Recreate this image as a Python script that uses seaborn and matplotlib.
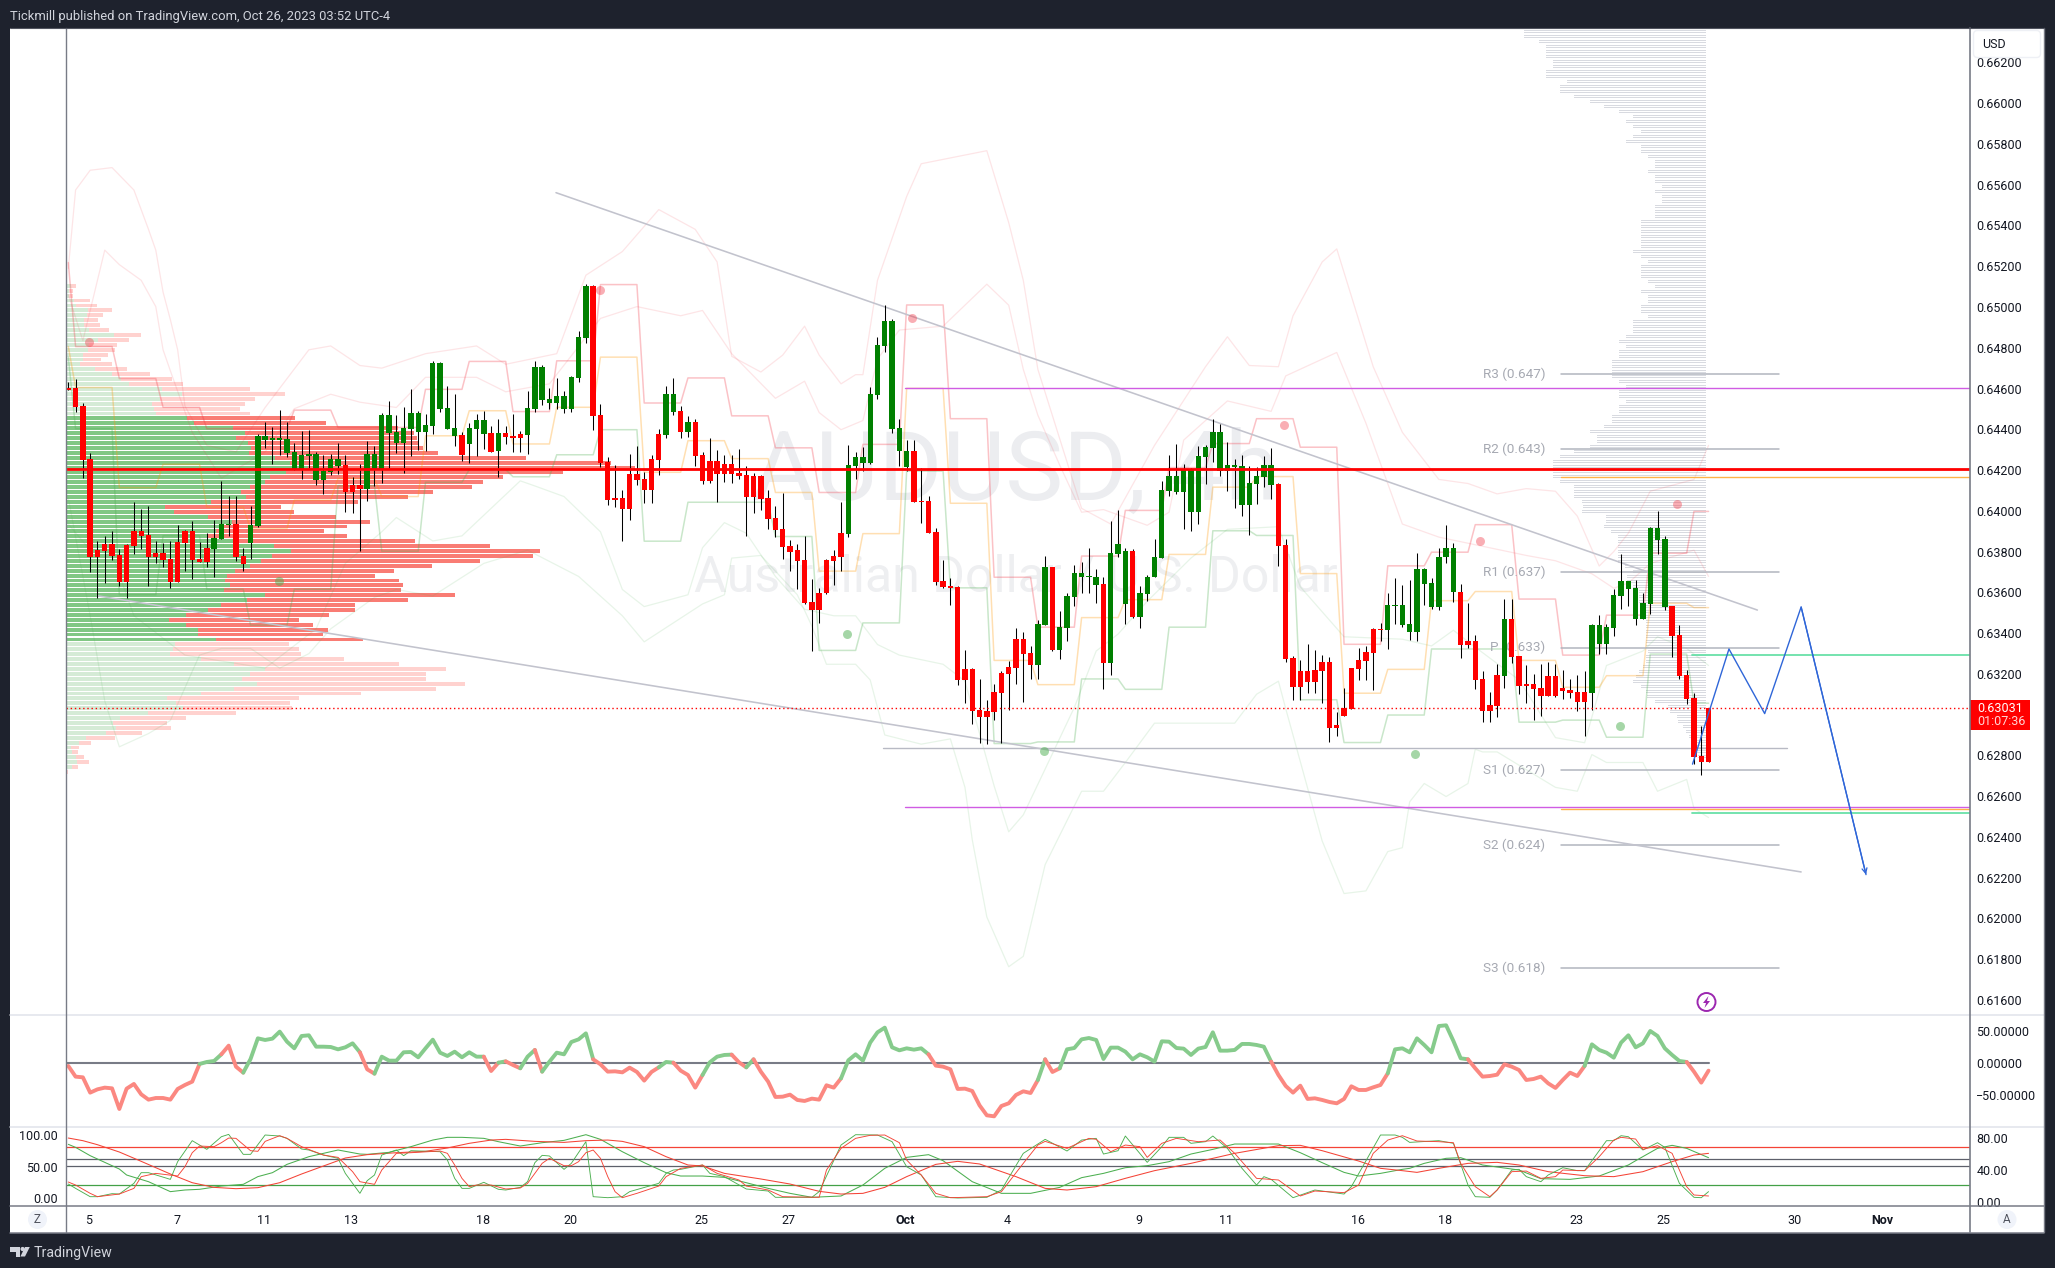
import numpy as np
import matplotlib
matplotlib.use("Agg")
import matplotlib.pyplot as plt
from matplotlib.patches import Rectangle, Circle, Polygon, FancyBboxPatch, Ellipse
import seaborn as sns

W, H = 2055, 1268

# ---------- OHLC-style candle data (prices in 1e-5 points) ----------
body_top = [64603,64603,64514,64253,63807,63837,63837,63785,63832,63900,
63900,63881,63793,63793,63764,63846,63900,63900,63764,63818,
63867,63935,63935,63935,63778,63930,64366,64366,64352,64352,
64352,64288,64274,64279,64279,64193,64254,64254,64225,64128,
64128,64279,64279,64470,64470,64386,64407,64480,64480,64421,
64726,64726,64505,64407,64372,64407,64445,64445,64381,64381,
64381,64366,64375,64505,64705,64705,64549,64563,64563,64656,
64852,65103,65103,64470,64239,64063,64063,64179,64179,64154,
64254,64377,64573,64573,64489,64435,64435,
64274,64244,64244,
64228,64228,64184,64174,64170,64170,64062,63963,63909,63827,
63807,63758,63552,63599,63758,63778,63892,64225,64263,64263,
64573,64813,64931,64931,64407,64293,64293,64046,64048,63895,
63655,63630,63625,63224,63224,63022,63017,63110,63205,63233,
63371,63371,63303,63445,63723,63723,63429,63581,63695,63695,
63680,63674,63641,63793,63837,63802,63802,63597,63676,63772,
64102,64170,64170,64204,64204,64268,64312,64386,64386,64225,
64225,64219,64137,64170,64225,64225,64132,63832,63278,63213,
63213,63219,63257,63257,62949,63033,63229,63268,63306,63420,
63420,63538,63538,
63538,63445,63715,63715,63646,63772,63818,
63818,63604,63361,63361,63175,63045,63194,63469,63469,63287,
63150,63150,63131,63189,63189,63131,63120,63110,63110,63439,
63439,63429,63587,63655,63655,63620,63548,63916,63916,63862,
63532,63390,63192,63082,62796,63031]
body_bot = [64594,64508,64251,63771,63771,63802,63778,63650,63650,63827,
63876,63774,63772,63760,63650,63650,63842,63760,63748,63748,
63814,63862,63930,63774,63739,63842,63925,64349,64349,64349,
64286,64205,64205,64268,64153,64153,64191,64219,64091,64091,
64107,64107,64205,64205,64384,64333,64333,64402,64386,64386,
64416,64500,64402,64366,64274,64328,64402,64377,64291,64293,
64361,64358,64358,64372,64500,64543,64529,64529,64500,64500,
64652,64848,64465,64233,64053,64053,64009,64009,64151,64102,
64102,64249,64372,64484,64386,64386,64268,
64146,64146,64181,
64181,64181,64170,64067,64067,64058,63960,63906,63821,63800,
63753,63548,63513,63513,63595,63753,63772,63886,64219,64233,
64233,64568,64808,64403,64293,64214,64042,64042,63892,63650,
63625,63623,63170,63170,63017,62987,62987,63014,63106,63201,
63229,63299,63245,63245,63439,63317,63317,63425,63578,63674,
63674,63636,63255,63255,63790,63543,63478,63478,63594,63673,
63769,64098,64093,64093,63993,63993,64263,64309,64196,64196,
64214,64028,64028,64132,64165,64126,63827,63273,63134,63134,
63159,63159,63213,62936,62936,62993,63029,63226,63262,63303,
63415,63415,63532,
63441,63404,63404,63643,63529,63529,63771,
63602,63343,63343,63171,63019,63019,63042,63191,63283,63140,
63140,63127,63092,63092,63091,63117,63106,63063,63063,63108,
63348,63348,63427,63583,63618,63471,63471,63545,63858,63527,
63385,63189,63077,62793,62766,62766]
wick_top = [64631,64645,64529,64284,63851,63878,63899,63813,63837,64041,
64009,64023,63851,63842,63851,63930,63907,63949,63846,63890,
63953,64146,64074,64074,63818,64023,64377,64435,64410,64494,
64435,64333,64391,64396,64289,64272,64277,64333,64272,64165,
64228,64342,64319,64482,64538,64468,64508,64598,64489,64475,
64735,64731,64614,64573,64386,64433,64475,64491,64417,64451,
64417,64475,64391,64587,64735,64713,64603,64654,64587,64663,
64882,65111,65110,64524,64263,64223,64102,64277,64317,64189,
64272,64400,64612,64652,64514,64465,64451,
64291,64358,64296,
64272,64274,64303,64221,64186,64177,64102,64023,64088,63857,
63835,63874,63664,63622,63765,63809,64042,64323,64288,64312,
64607,64855,65008,64940,64449,64347,64349,64209,64072,63918,
63758,63669,63630,63315,63231,63175,63073,63148,63213,63261,
63424,63406,63336,63462,63778,63723,63508,63599,63736,63748,
63818,63713,63674,63949,64002,63818,63814,63632,63685,63862,
64146,64274,64326,64230,64212,64317,64323,64449,64428,64340,
64256,64274,64221,64216,64268,64309,64137,63862,63287,63266,
63345,63319,63292,63283,63015,63129,63231,63327,63336,63424,
63450,63599,63669,
63634,63660,63795,63718,63669,63818,63928,
63842,63641,63550,63390,63213,63110,63248,63567,63567,63287,
63243,63199,63248,63257,63248,63219,63177,63196,63213,63445,
63488,63445,63615,63786,63655,63660,63599,63923,63997,63876,
63532,63439,63219,63105,62942,63031]
wick_bot = [64594,64486,64161,63701,63574,63648,63758,63632,63574,63790,
63813,63632,63744,63722,63623,63650,63706,63667,63748,63722,
63674,63862,63878,63755,63706,63765,63921,64310,64232,64275,
64263,64202,64158,64211,64128,64083,64175,64179,63995,63988,
63802,64049,64123,64137,64207,64284,64186,64270,64298,64295,
64377,64487,64402,64317,64244,64235,64268,64302,64288,64165,
64328,64289,64289,64279,64487,64519,64500,64500,64480,64486,
64631,64824,64396,64214,64028,64018,63851,63955,64126,64039,
64039,64175,64358,64470,64358,64361,64218,
64133,64137,64042,
64142,64137,64158,63876,63990,64005,63909,63871,63765,63704,
63616,63541,63313,63450,63592,63634,63704,63871,64156,64195,
64230,64549,64778,64382,64221,64195,64042,63941,63892,63634,
63622,63538,63147,63057,62954,62863,62858,62973,62863,63021,
63152,63061,63175,63175,63439,63313,63275,63362,63532,63597,
63599,63550,63126,63196,63774,63446,63475,63427,63559,63673,
63769,64072,64081,63911,63902,63937,64133,64239,64172,64098,
64016,63974,63883,64034,64116,64060,63730,63257,63073,63073,
63108,63108,63056,62866,62894,62993,63029,63170,63170,63120,
63362,63322,63446,
63429,63366,63362,63538,63518,63511,63744,
63552,63280,63327,63126,62963,62966,62986,63131,63254,63099,
63056,62973,62994,63089,63087,63078,63082,63019,62893,63024,
63297,63297,63387,63520,63532,63441,63471,63495,63786,63515,
63283,63175,63052,62758,62705,62766]
bar_colors = ("r"*20 + "g"*3 + "r"*2 + "g"*13 + "r"*3 + "g"*13 + "r" + "g"*3 + "r" + "g" + "r"*3 +
              "g"*9 + "r"*10 + "g"*2 + "r" + "g" + "r"*21 + "g"*9 + "r"*17 + "g"*2 + "r" + "g"*6 + "r" +
              "g"*3 + "r" + "g"*19 + "r"*15 + "g"*10 + "r"*6 + "g" + "r"*11 + "g"*11 + "r"*6)

# ---------- daily pivot step levels, one per 6-bar day, first is the day before bar 1 ----------
step_r = [65218,64806,64649,64508,64403,64403,64494,64409,64409,64596,64733,64487,64736,65110,64529,64652,
          64466,64309,64090,64326,65010,64452,63674,63429,63778,64002,64212,64330,64452,64312,63345,63730,
          63797,63932,63567,63292,63488,63792,63997]
step_o = [64806,64605,64114,64228,64018,63913,64053,64158,64070,64368,64491,64328,64508,64754,64189,64344,
          64256,64090,63704,63888,64601,64037,63266,63147,63476,63564,63786,64116,64168,63692,63105,63222,
          63559,63604,63266,63134,63191,63546,63525]
step_g = [64754,64403,63588,63878,63615,63439,63615,64123,63802,64140,64202,64167,64275,64398,63851,64042,
          64042,63874,63315,63450,64195,63622,62858,62866,63175,63124,63429,63902,63879,63073,62863,62998,
          63322,63322,62963,62973,62889,63297,63056]

# ---------- pale envelope curves (bar index, price points) ----------
u1_i = [0,1,3,6,9,11,12,13,14,15,16,19,23,27,33,36,40,43,49,56,60,67,71,76,81,86,89,91,95,98,101,103,106,108,109,
        111,115,117,126,129,131,133,139,143,149,156,159,162,166,168,172,174,179,183,188,192,196,200,204,207,210,212,214,217,223,225]
u1_p = [65189,65574,65671,65684,65574,65381,65279,65073,64938,64790,64514,64321,64289,64507,64790,64809,64713,64700,64771,64809,64719,64771,65156,65272,65478,65381,65221,64758,64681,64764,64906,64764,64623,64668,64668,
        65131,65542,65703,65767,65414,65131,64694,64012,63935,64321,64707,64854,64713,64707,64957,65221,65285,64707,64385,64154,64134,64083,64109,64096,63974,63729,63800,63890,64096,64154,64321]
u2_i = [0,2,5,7,10,12,13,14,17,21,27,31,36,40,45,49,56,60,66,73,78,84,87,91,97,101,103,106,109,111,114,120,123,126,129,131,133,136,139,142,148,151,153,159,165,167,174,178,183,188,194,200,204,209,212,214,217,223,225]
u2_p = [65060,64835,65279,65208,65131,65002,64790,64687,64385,64160,64289,64501,64572,64533,64507,64655,64655,64584,64623,64944,65002,64957,64983,64771,64552,64636,64482,64398,64443,64745,64887,64906,65009,65112,65009,64694,64469,64224,63993,64006,63929,63993,64347,64539,64488,64662,64777,64430,63935,63871,63826,63781,63755,63691,63620,63646,63742,63807,63678]
l1_i = [0,3,6,9,16,27,34,38,43,45,50,54,62,64,68,73,76,79,85,87,90,93,97,101,105,108,111,114,120,123,125,127,129,131,134,138,141,144,148,154,159,166,169,175,183,187,190,193,199,204,208,211,216,218,222,225]
l1_p = [63935,63807,63787,63485,63292,63228,63421,63742,63897,63967,63852,63877,64147,64122,64070,63897,63614,63530,63588,63819,63942,63890,63678,63517,63485,63485,63344,63292,63247,63164,62907,62650,62425,62508,62733,63035,63312,63395,63556,63768,63909,63922,63627,63382,63370,63337,63414,63331,63170,62887,62862,63241,63312,63382,63325,63241]
l2_i = [0,3,5,7,11,14,18,21,25,29,33,36,42,45,50,57,63,70,76,79,87,90,91,95,100,102,104,108,110,112,117,121,123,124,126,129,131,134,139,142,145,149,156,160,163,166,167,172,175,178,181,183,184,186,189,192,193,194,196,204,207,209,211,216,218,222,223,225]
l2_p = [64064,63485,63067,62842,62907,62971,63292,63325,63325,63228,63299,63421,63575,63614,63582,63742,63807,63678,63485,63357,63543,63588,63768,63781,63588,63434,63247,63247,63170,62900,62855,62881,62643,62386,62007,61763,61814,62264,62624,62624,62765,62958,62958,62958,63100,63164,63029,62380,62122,62135,62328,62347,62572,62662,62598,62662,62830,62817,62817,62643,62624,62804,62765,62765,62624,62682,62540,62495]

# ---------- signal dots (bar index, price points) ----------
dot_r_i = [2.9,72.9,115.8,166.8,193.7,220.7]
dot_r_p = [64829,65083,64948,64421,63851,64034]
dot_g_i = [28.9,106.8,133.8,184.7,212.8]
dot_g_p = [63657,63397,62823,62808,62945]

# ---------- left volume profile: 100 rows from the top ----------
vp_up = [11,8,8,18,23,51,48,41,41,53,108,73,53,50,40,38,33,65,103,123,143,216,261,211,193,198,203,
         271,288,374,402,382,409,416,410,470,503,543,493,458,446,413,394,404,326,222,242,320,373,343,336,316,383,466,504,462,438,414,379,361,357,368,354,447,406,349,318,270,232,270,297,297,338,
         246,240,234,303,378,447,413,396,428,378,303,228,248,263,184,121,106,113,90,46,30,13,15,23,25,15,1]
vp_all = [23,16,16,55,70,104,84,73,77,97,169,142,115,111,95,79,104,137,189,238,263,413,491,424,402,391,413,
          514,583,745,780,788,792,801,834,1031,1221,1276,1114,980,935,910,823,767,655,482,512,606,682,630,579,630,783,951,1063,1047,928,821,736,693,747,756,751,872,767,648,648,590,523,554,588,577,666,
          500,523,527,624,747,852,807,807,895,830,662,523,503,507,382,270,227,236,171,111,57,30,28,41,52,28,5]
vp_first_price, vp_step = 0.65104, 0.000241

# ---------- right (gray) volume profile, widths from the top, each for two rows ----------
vp2_w = [182,182,167,160,160,160,153,153,160,160,139,146,146,132,116,102,87,73,80,73,65,73,80,65,65,58,51,51,58,51,51,44,51,44,44,51,51,51,65,
         65,65,65,65,65,73,65,58,65,65,65,58,51,65,58,58,65,65,58,73,73,73,80,87,80,87,87,94,94,94,94,87,80,87,87,80,87,87,94,94,102,116,109,109,116,132,146,153,153,153,153,146,132,132,132,124,
         123,124,100,100,102,95,88,88,88,88,88,88,81,73,79,79,73,67,67,67,60,60,60,60,60,60,60,60,60,58,60,60,63,67,70,73,65,60,59,51,38,36,29,28,23,20,17,15,14,13,8]
vp2_first_price, vp2_step = 0.66359, 0.0001227

# ---------- horizontal levels ----------
piv_names = ["R3 (0.647)", "R2 (0.643)", "R1 (0.637)", "P (0.633)", "S1 (0.627)", "S2 (0.624)", "S3 (0.618)"]
piv_vals = [0.64671,0.64302,0.63699,0.63329,0.62728,0.62358,0.61757]
last_price = 0.63031
res_line = 0.64205
purple_levels = [0.64604,0.62549]
orange_levels = [0.64166,0.62537]
mint_levels = [0.63294,0.62518]
gray_level = 0.62835

# trend and forecast
upper_i, upper_p = [66.9,231.7],[0.65561,0.63513]
lower_i, lower_p = [4,237.7],[0.63583,0.62228]
blue_i = [222.8,227.8,232.7,237.7,246.6]
blue_p = [0.62757,0.63322,0.63005,0.63528,0.62215]

price_ticks = [0.616,0.618,0.62,0.622,0.624,0.626,0.628,0.63,0.632,0.634,0.636,0.638,0.64,0.642,0.644,0.646,0.648,0.65,0.652,0.654,0.656,0.658,0.66,0.662]
time_idx = [3,15,27,39,57,69,87,99,115,129,147,159,177,189,207,219,237,249]
time_lab = ["5","7","11","13","18","20","25","27","Oct","4","9","11","16","18","23","25","30","Nov"]

# ---------- momentum oscillator, one value per bar ----------
cci = [-4.7,-21.6,-22.7,-46.9,-41.7,-39,-40.1,-72.8,-40.6,-33.2,-49.6,-58,-55.4,-55.4,-58,-41.1,-34.8,-29.5,-1.6,1.6,
3.2,13.7,27.4,-5.8,-15.3,6.3,39,36.4,38.5,49.6,33.7,23.2,42.7,43.8,25.8,25.8,25.3,21.6,24.8,31.1,
16.9,-10,-16.9,10,3.7,3.7,16.9,17.4,9,23.2,36.9,16.3,11.1,17.9,9,16.9,10,10,-12.7,0.5,
2.6,-3.2,-8.4,10,20.6,-13.7,2.1,16.3,13.7,33.2,37.4,46.9,5.8,-2.1,-13.7,-13.2,-14.8,-7.4,-14.2,-27.9,
-14.2,-6.9,1.6,0.5,-12.1,-19,-39,-19,1.1,10,12.7,13.2,1.1,-6.9,5.8,-13.7,-29.5,-53.8,-53.3,-50.1,
-58.5,-60.1,-56.4,-58,-35.3,-39,-24.3,4.2,13.7,3.7,32.2,48.5,55.9,24.8,20,23.2,21.1,23.2,13.7,-4.2,
-5.8,-10,-41.1,-40.6,-44.3,-67,-82.8,-84.4,-68,-63.8,-50.6,-44.8,-47.5,-26.9,5.8,-14.2,-8.4,21.6,23.7,37.4,
39.5,36.4,6.3,24.3,24.3,17.9,5.8,13.7,9,2.1,34.3,33.7,23.7,22.7,12.7,22.7,25.3,48.5,19.5,19.5,
20.6,30.1,30.1,28.5,25.8,2.1,-19,-36.4,-46.9,-35.9,-56.9,-55.9,-58.5,-61.7,-63.8,-56.9,-36.9,-42.7,-42.7,-38.5,
-34.8,-16.3,21.6,23.2,16.9,39,28.5,16.9,58.5,59.6,34.8,7.4,5.8,-8.4,-21.6,-20.6,-18.5,-2.1,-5.8,-11.1,
-26.9,-25.3,-21.6,-32.2,-39.5,-26.9,-15.3,-20.6,-4.7,29.5,20.6,16.3,8.4,32.2,43.8,24.8,31.1,50.6,42.7,23.2,
12.7,3.2,1.6,-13.7,-31.1,-12.1]
cci_up_runs = [(18,21),(24,40),(42,57),(59,60),(62,64),(65,72),(81,83),(87,91),(93,94),(106,118),(133,134),(136,165),(181,192),(208,222)]

# ---------- stochastic lines, read at their visible vertices ----------
sk_i = [0,1,3,5,7,8,11,14,16,18,21,24,26,28,30,33,37,40,41,44,47,50,52,54,57,59,62,65,68,71,73,76,79,82,84,87,90,93,96,99,102,106,109,112,115,118,120,124,128,132,136,139,142,145,148,151,154,157,160,166,169,172,175,177,180,183,184,186,189,191,194,199,202,206,210,214,215,218,220,222,225]
sk_v = [85.2,80.4,67.2,56.6,46,36.5,25.9,10.1,12.7,13.8,19,21.7,33.9,40.2,53.4,65.6,76.2,69.8,69.3,72.5,81.5,92,96.3,96.3,94.7,89.4,82.5,87.8,91.5,100.5,93.1,73.5,56.1,40.2,34.9,34.9,32.8,24.3,15.3,7.4,1.1,3.2,20.6,47.1,64.5,68.8,59.2,25.9,7.4,7.4,16.9,32.3,39.1,48.1,51.3,57.7,69.8,77.2,85.7,85.7,71.9,56.1,40.7,34.9,39.1,45.5,47.1,55,63,64,52.4,44.4,30.7,29.6,34.9,52.4,59.2,78.8,83.6,78.8,64]
sd_i = [0,2,4,7,10,14,17,20,23,26,29,32,35,38,41,45,49,52,55,58,60,64,68,71,74,76,79,82,85,87,90,95,99,103,106,109,112,115,119,122,125,130,134,137,141,145,149,154,160,166,169,172,177,180,183,185,188,192,196,199,203,208,212,216,220,223,225]
sd_v = [95.2,91,84.6,73,58.2,38.1,24.3,16.9,14.8,16.4,24.3,38.1,50.8,63.5,68.8,71.9,74.1,79.4,86.8,92,93.1,89.9,88.3,91,92,89.9,81.5,65.6,52.4,50.8,39.1,30.2,22.2,10.6,6.3,7.4,16.9,33.9,53.4,58.2,54,33.9,15.3,12.7,18,31.2,43.4,55,70.9,83.1,83.6,75.1,58.7,47.1,43.4,40.7,47.1,55,56.6,52.4,41.8,35.4,33.9,41.8,57.7,68.2,70.9]
fk_i = [0,1,3,4,6,7,9,10,11,14,15,17,19,21,22,24,25,27,29,30,32,33,35,37,38,40,41,42,43,45,46,47,51,52,53,54,55,57,59,60,62,63,64,65,66,68,69,71,72,74,76,77,81,82,83,84,87,88,90,93,96,97,102,103,106,108,111,113,115,117,119,122,126,128,131,134,137,139,141,142,144,145,148,150,151,153,154,156,157,159,161,163,164,165,168,171,175,176,180,182,183,184,188,190,192,193,195,196,198,199,200,202,203,205,207,208,211,212,213,214,216,218,219,221,223,224,225]
fk_v = [22.2,15.3,2.1,2.1,6.9,6.3,23.3,40.2,40.2,29.6,57.7,91,77.2,97.3,101,69.3,69.3,100,98.4,94.7,77.8,76.2,68.2,63,39.1,7.4,27.5,36.5,68.2,76.2,67.2,75.1,73.5,60.3,31.2,15.3,15.3,24.9,13.8,12.7,16.9,25.9,56.1,67.7,66.7,45.5,55,89.4,2.1,0.5,2.1,10.1,23.3,39.1,44.4,45.5,52.4,39.1,33.9,14.3,11.1,1.1,1.1,10.1,84.1,100.5,100,89.4,49.7,36.5,2.1,0,1.1,12.7,70.9,93.1,74.6,92,94.7,69.8,75.1,98.4,56.6,81.5,96.3,96.3,86.8,89.4,98.4,78.8,47.1,20.6,33.9,29.6,0.5,12.7,6.3,18,100,100,96.3,88.3,91,86.8,20.6,2.1,1.1,12.7,44.4,45.5,33.9,25.9,36.5,48.1,43.4,43.4,91,91,98.9,97.3,76.2,87.8,80.4,23.3,1.1,0.5,10.1]
fd_i = [0,1,3,4,7,9,10,12,15,16,17,18,20,21,22,23,25,26,27,29,30,32,35,37,39,40,42,43,45,47,51,52,53,54,55,56,58,60,62,63,64,65,66,68,69,70,71,72,73,74,75,76,78,81,82,84,87,89,92,93,96,98,103,104,106,108,110,112,114,115,117,119,121,126,128,131,133,134,137,140,141,143,145,147,148,150,152,155,158,160,163,166,169,171,175,177,179,181,183,185,188,190,191,193,195,196,198,200,202,204,205,208,210,212,213,215,216,218,220,222,223,225]
fd_v = [25.4,20.6,7.4,2.1,6.3,15.3,33.9,39.1,34.9,49.7,71.9,82.5,81.5,87.8,95.2,94.7,75.1,74.1,89.9,98.9,94.7,81.5,68.2,64.5,41.8,25.9,21.7,44.4,70.9,71.9,74.6,70.9,52.4,31.2,18,20.6,20.6,14.3,15.9,23.3,39.1,55,63,51.3,51.3,57.7,71.9,76.2,63,33.9,10.1,0.5,7.4,19,33.9,47.1,52.4,39.1,28.6,19,12.7,2.1,1.1,44.4,78.8,94.7,99.5,100,87.8,60.3,36.5,7.4,0.5,2.1,10.1,55,84.1,89.9,78.8,94.7,93.1,73.5,84.1,81.5,64.5,86.8,94.7,89.4,92,70.9,31.2,28.6,3.2,11.1,8.5,20.6,70.9,92,98.9,90.5,89.4,87.8,55,18,2.1,12.7,41.8,42.8,31.2,33.9,44.4,43.4,65.6,92,96.3,93.6,77.2,83.1,70.9,18,4.8,3.2]
stoch_levels_red, stoch_levels_green = 80.4, 20.1
stoch_levels_gray = [61.4,50.3]

# ---------- figure ----------
sns.set_theme(style="white")
plt.rcParams["font.family"] = ["Roboto", "DejaVu Sans"]
BG = "#1E222D"
TXT = "#131722"
AXC = "#787B86"
fig = plt.figure(figsize=(W/100, H/100), dpi=100, facecolor=BG)

def rect(l, t, r, b):
    return [l/W, 1-b/H, (r-l)/W, (b-t)/H]

under = fig.add_axes([0,0,1,1], zorder=0); under.set_xlim(0,W); under.set_ylim(H,0); under.axis("off")
under.add_patch(Rectangle((10,27.5),2034,1205,fc="white",ec="none"))
under.text(1015,474,"AUDUSD, 4h",fontsize=70,color="#ECEDF0",ha="center",va="center")
under.text(1016,577,"Australian Dollar / U.S. Dollar",fontsize=36,color="#EEEFF1",ha="center",va="center")

L, R = 65.6, 1970
PXB, X0 = 7.29, 68.3
xlim = ((L-X0)/PXB, (R-X0)/PXB)

ax = fig.add_axes(rect(L,28,R,1014), zorder=1); ax.patch.set_alpha(0)
ax.set_xlim(*xlim); ax.set_ylim(0.61531,0.66369)

# left profile
vp_p = vp_first_price - vp_step*np.arange(len(vp_up))
up = np.array(vp_up)/16.33; al = np.array(vp_all)/16.33
bright = (np.arange(len(vp_up))>=27)&(np.arange(len(vp_up))<73)
ax.barh(vp_p, up, left=xlim[0], height=0.00019, color=np.where(bright,"#81C784","#D5EBD6"), lw=0, zorder=1)
ax.barh(vp_p, al-up, left=xlim[0]+up, height=0.00019, color=np.where(bright,"#F97C74","#FFD2CF"), lw=0, zorder=1)

# right profile
w2 = np.repeat(np.array(vp2_w),2)/PXB
p2 = vp2_first_price - vp2_step*np.arange(len(w2))
xr = (1706.4-X0)/PXB
ax.barh(p2, w2, left=xr-w2, height=0.00005, color="#D8DAE0", lw=0, zorder=1)

def line(a, xs, ys, **kw):
    sns.lineplot(x=list(xs), y=list(ys), ax=a, estimator=None, errorbar=None, sort=False, legend=False, **kw)

for xs, ps, c in [(u1_i,u1_p,"#F23645"),(u2_i,u2_p,"#F23645"),(l1_i,l1_p,"#4CAF50"),(l2_i,l2_p,"#4CAF50")]:
    line(ax, xs, np.array(ps)/1e5, color=c, alpha=0.13, linewidth=0.9, zorder=2)

def steps(levels):
    xs, ys = [], []
    for n, v in enumerate(levels):
        k = n-1
        a, b = max(0,6*k+1), min(225,6*k+6)
        xs += [a,b]; ys += [v/1e5,v/1e5]
    return xs, ys
for lv, c in [(step_r,"#F23645"),(step_o,"#FF9800"),(step_g,"#4CAF50")]:
    xs, ys = steps(lv)
    line(ax, xs, ys, color=c, alpha=0.3, linewidth=1.1, zorder=2)

for v, n in zip(piv_vals, piv_names):
    ax.plot([204.8,234.7],[v,v],color="#B2B5BE",lw=1.1,zorder=3)
    ax.text(202.6, v, n, color="#A6A9B2", fontsize=9.7, ha="right", va="center", zorder=3)
ax.plot([111.8,235.7],[gray_level]*2,color="#B8BAC4",lw=1.0,zorder=3)
line(ax, upper_i, upper_p, color="#C2C3CD", linewidth=1.15, zorder=3)
line(ax, lower_i, lower_p, color="#C2C3CD", linewidth=1.15, zorder=3)

# candles
n = len(body_top)
xb = np.arange(n)
bt, bb, wt, wb = [np.array(v)/1e5 for v in (body_top,body_bot,wick_top,wick_bot)]
cols = ["#FF0000" if c=="r" else "#008000" for c in bar_colors]
ax.vlines(xb, wb, wt, color="black", lw=0.75, zorder=4)
ax.bar(xb, np.maximum(bt-bb,0.00006), bottom=bb, width=0.74, color=cols, lw=0, zorder=5)

# levels
for v in purple_levels:
    ax.plot([114.8,xlim[1]],[v,v],color="#D05CE3",lw=1.0,zorder=6)
for v in orange_levels:
    ax.plot([204.8,xlim[1]],[v,v],color="#FFB347",lw=1.0,zorder=6)
for v in mint_levels:
    ax.plot([222.7,xlim[1]],[v,v],color="#69E0A8",lw=1.3,zorder=6)
ax.axhline(res_line,color="#FF0000",lw=2.0,zorder=6)
ax.axhline(last_price,color="#FF0000",lw=1.0,ls=(0,(1,2)),zorder=6)

ax.scatter(dot_r_i,np.array(dot_r_p)/1e5,s=42,color="#F23645",alpha=0.4,lw=0,zorder=6)
ax.scatter(dot_g_i,np.array(dot_g_p)/1e5,s=42,color="#4CAF50",alpha=0.5,lw=0,zorder=6)

line(ax, blue_i, blue_p, color="#2F66D8", linewidth=1.0, zorder=7)
ax.annotate("",xy=(blue_i[-1],blue_p[-1]),xytext=(blue_i[-2],blue_p[-2]),
            arrowprops=dict(arrowstyle="->",color="#2F66D8",lw=0.9,mutation_scale=9,shrinkA=0,shrinkB=0),zorder=7)

ax.yaxis.tick_right()
ax.set_yticks(price_ticks); ax.set_yticklabels([f"{v:.5f}" for v in price_ticks])
ax.tick_params(axis="y",length=0,pad=4.6,labelsize=9,labelcolor=TXT)
ax.set_xticks([]); ax.set_xlabel(""); ax.set_ylabel("")
for s in ax.spines.values(): s.set_visible(False)

# oscillator 1
a1 = fig.add_axes(rect(L,1014,R,1126), zorder=1); a1.patch.set_alpha(0)
a1.set_xlim(*xlim); a1.set_ylim(-99.7,77.5)
a1.plot([xlim[0],225],[0,0],color=AXC,lw=1.5,zorder=1)
is_up = np.zeros(len(cci)-1,bool)
for a,b in cci_up_runs:
    is_up[a:b] = True
start = 0
for j in range(1,len(cci)):
    if j==len(cci)-1 or is_up[j]!=is_up[start]:
        idx = np.arange(start,j+1)
        line(a1, idx, np.array(cci)[idx], color="#86CB8C" if is_up[start] else "#FB8881", linewidth=2.8, zorder=2)
        start = j
a1.yaxis.tick_right()
a1.set_yticks([50,0,-50]); a1.set_yticklabels(["50.00000","0.00000","\u221250.00000"])
a1.tick_params(axis="y",length=0,pad=4.6,labelsize=9,labelcolor=TXT)
a1.set_xticks([]); a1.set_xlabel(""); a1.set_ylabel("")
for s in a1.spines.values(): s.set_visible(False)

# oscillator 2
a2 = fig.add_axes(rect(L,1126,R,1205), zorder=1); a2.patch.set_alpha(0)
a2.set_xlim(*xlim); a2.set_ylim(-11.1,114.3)
a2.axhline(stoch_levels_red,color="#F44336",lw=0.9,zorder=1)
a2.axhline(stoch_levels_green,color="#43A047",lw=0.9,zorder=1)
for v in stoch_levels_gray:
    a2.axhline(v,color="#5D606B",lw=0.9,zorder=1)
line(a2, sk_i, sk_v, color="#4CAF50", linewidth=0.75, zorder=2)
line(a2, sd_i, sd_v, color="#F44336", linewidth=0.75, zorder=2)
line(a2, fk_i, fk_v, color="#4CAF50", linewidth=0.65, zorder=2)
line(a2, fd_i, fd_v, color="#F44336", linewidth=0.65, zorder=2)
a2.set_yticks([0,50,100]); a2.set_yticklabels(["0.00","50.00","100.00"])
a2.tick_params(axis="y",length=0,pad=5.5,labelsize=9,labelcolor=TXT)
a2.set_xticks([i-0.15 for i in time_idx]); a2.set_xticklabels(time_lab)
a2.tick_params(axis="x",length=0,pad=6.3,labelsize=9,labelcolor=TXT)
for t,lab in zip(a2.get_xticklabels(),time_lab):
    if lab in ("Oct","Nov"): t.set_fontweight("bold")
a2.set_xlabel(""); a2.set_ylabel("")
for s in a2.spines.values(): s.set_visible(False)
a2r = a2.twinx(); a2r.patch.set_alpha(0)
a2r.set_ylim(-4.4,95.1)
a2r.set_yticks([0,40,80]); a2r.set_yticklabels(["0.00","40.00","80.00"])
a2r.tick_params(axis="y",length=0,pad=4.6,labelsize=9,labelcolor=TXT)
a2r.grid(False)
for s in a2r.spines.values(): s.set_visible(False)

# chrome on top
top = fig.add_axes([0,0,1,1], zorder=5); top.set_xlim(0,W); top.set_ylim(H,0); top.axis("off"); top.patch.set_alpha(0)
for y in (1014.7,1126.7):
    top.plot([10,2044],[y,y],color="#E0E3EB",lw=1.1)
for y in (1205.7,1232.7):
    top.plot([10,2044],[y,y],color=AXC,lw=1.1)
top.plot([L,L],[28,1232],color=AXC,lw=1.0)
top.plot([R,R],[28,1232],color=AXC,lw=1.2)
top.plot([2044,2044],[28,1232],color=AXC,lw=1.0)
top.plot([10,2044],[27.5,27.5],color="#50535E",lw=0.8)
top.add_patch(FancyBboxPatch((1975,32),64,24,boxstyle="round,pad=1.5,rounding_size=4",fc="white",ec="#EEF0F5",lw=1))
top.text(1982,44.5,"USD",fontsize=9,color=TXT,ha="left",va="center")
top.add_patch(Rectangle((R,700),59.5,29.6,fc="#FF0000",ec="none"))
top.text(1977,708.5,"0.63031",fontsize=9,color="white",ha="left",va="center")
top.text(1977,721.5,"01:07:36",fontsize=9,color="#FFD5D5",ha="left",va="center")
top.add_patch(Ellipse((37.5,1219.5),19,19,fc="#F0F3FA",ec="none"))
top.text(37.5,1219.5,"Z",fontsize=8.5,color="#50535E",ha="center",va="center")
top.add_patch(Ellipse((2007,1219.5),19,19,fc="#F0F3FA",ec="none"))
top.text(2007,1219.5,"A",fontsize=8.5,color="#50535E",ha="center",va="center")
top.text(10,16.3,"Tickmill published on TradingView.com, Oct 26, 2023 03:52 UTC-4",fontsize=9.35,color="#D1D4DC",ha="left",va="center")
top.text(33.5,1253,"TradingView",fontsize=10.2,color="#D1D4DC",ha="left",va="center")
top.add_patch(Polygon([(10,1247),(20,1247),(20,1256.5),(15.5,1256.5),(15.5,1251.5),(10,1251.5)],fc="#D1D4DC",ec="none"))
top.add_patch(Ellipse((22.6,1249),4.2,4.2,fc="#D1D4DC",ec="none"))
top.add_patch(Polygon([(25,1247),(29.8,1247),(25,1256.5),(20.4,1256.5)],fc="#D1D4DC",ec="none"))
# lightning marker
top.add_patch(Ellipse((1706.5,1002),18,18,fc="white",ec="#9C27B0",lw=1.4))
top.add_patch(Polygon([(1708.5,996),(1703,1003),(1706,1003),(1704.5,1008),(1710,1001),(1707,1001)],fc="#9C27B0",ec="none"))

assert len(bar_colors)==n==len(body_bot)==len(wick_top)==len(wick_bot)==len(cci)
fig.savefig("out.png",dpi=100,facecolor=BG)
